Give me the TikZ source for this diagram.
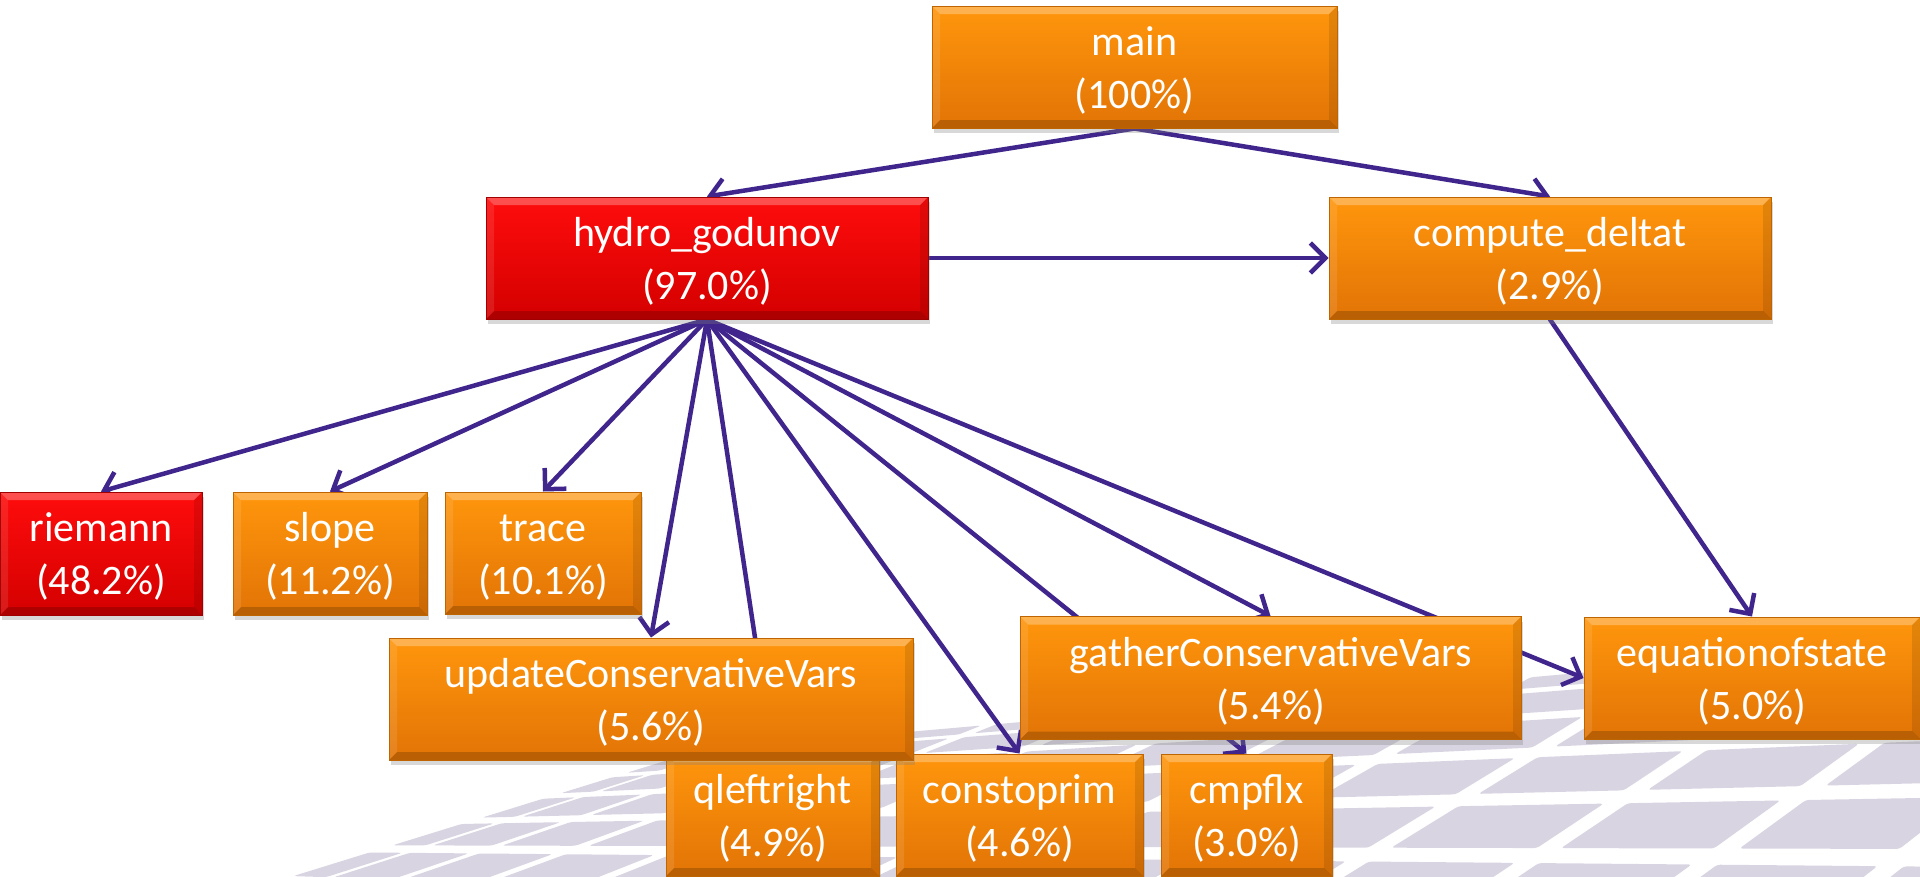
\documentclass[tikz,border=0pt]{standalone}
\usepackage{fontspec}
\setmainfont{Carlito}
\usetikzlibrary{arrows.meta,shadows}

\definecolor{callarrow}{RGB}{64,38,140}
\definecolor{hotop}{RGB}{255,150,12}
\definecolor{hobot}{RGB}{226,116,6}
\definecolor{horim}{RGB}{190,100,0}
\definecolor{rdtop}{RGB}{255,12,12}
\definecolor{rdbot}{RGB}{212,0,0}
\definecolor{rdrim}{RGB}{160,0,0}
\definecolor{tilegray}{RGB}{217,212,226}

\pgfdeclarelayer{tiles}
\pgfdeclarelayer{edges}
\pgfsetlayers{tiles,edges,main}

% bevelled rim of a box
\newcommand\boxbevel{%
  \fill[white,opacity=.28] (path picture bounding box.north west) -- (path picture bounding box.north east)
    -- ([shift={(-8pt,-8pt)}]path picture bounding box.north east) -- ([shift={(8pt,-8pt)}]path picture bounding box.north west) -- cycle;
  \fill[black,opacity=.18] (path picture bounding box.south west) -- (path picture bounding box.south east)
    -- ([shift={(-8pt,8pt)}]path picture bounding box.south east) -- ([shift={(8pt,8pt)}]path picture bounding box.south west) -- cycle;
  \fill[white,opacity=.10] (path picture bounding box.north west) -- ([shift={(8pt,-8pt)}]path picture bounding box.north west)
    -- ([shift={(8pt,8pt)}]path picture bounding box.south west) -- (path picture bounding box.south west) -- cycle;
  \fill[black,opacity=.10] (path picture bounding box.north east) -- ([shift={(-8pt,-8pt)}]path picture bounding box.north east)
    -- ([shift={(-8pt,8pt)}]path picture bounding box.south east) -- (path picture bounding box.south east) -- cycle;
}

\begin{document}
\begin{tikzpicture}[x=1pt,y=1pt,
    >={Straight Barb[length=15pt,width=30pt]},
    fn/.style={text=white,align=center,inner sep=0pt,minimum height=122pt,
      font=\fontsize{42}{53}\selectfont,text height=92pt,text depth=10pt,line width=1pt,
      drop shadow={shadow xshift=2pt,shadow yshift=-5pt,opacity=.3},
      path picture={\boxbevel}},
    warm/.style={fn,top color=hotop,bottom color=hobot,draw=horim},
    hot/.style={fn,top color=rdtop,bottom color=rdbot,draw=rdrim},
    call/.style={->,draw=callarrow,line width=4.5pt,line cap=round},
    % floor corners: near left (280,880), near right (2000,940), far left (700,750), far right (2400,600)
    declare function={bx(\p,\q)=(1-(\p))*(1-(\q))*280+(\p)*(1-(\q))*2000+(1-(\p))*(\q)*700+(\p)*(\q)*2400;
      by(\p,\q)=-((1-(\p))*(1-(\q))*880+(\p)*(1-(\q))*940+(1-(\p))*(\q)*750+(\p)*(\q)*600);}]

\useasboundingbox (0,0) rectangle (1920,-876);

% floor pattern
\begin{pgfonlayer}{tiles}
  \fill[white] (0,0) rectangle (1920,-876);
  \begin{scope}
    \clip (0,0) rectangle (1920,-876);
    \foreach \i in {0,...,12}{
      \foreach \j in {0,...,5}{
        \pgfmathsetmacro\sa{((\i+.07)/13)^1.5}
        \pgfmathsetmacro\sb{((\i+.93)/13)^1.5}
        \pgfmathsetmacro\ta{1-(1-(\j+.12)/6)^1.5}
        \pgfmathsetmacro\tb{1-(1-(\j+.88)/6)^1.5}
        \fill[tilegray,rounded corners=3pt]
          ({bx(\sa,\ta)},{by(\sa,\ta)}) -- ({bx(\sb,\ta)},{by(\sb,\ta)})
          -- ({bx(\sb,\tb)},{by(\sb,\tb)}) -- ({bx(\sa,\tb)},{by(\sa,\tb)}) -- cycle;
      }
    }
  \end{scope}
\end{pgfonlayer}

\node[warm,minimum width=405pt] (main)   at (1134.5,-67) {main\\(100\%)};
\node[hot,minimum width=442pt]  (hydro)  at (707,-258)   {hydro\_godunov\\(97.0\%)};
\node[warm,minimum width=442pt] (deltat) at (1550,-258)  {compute\_deltat\\(2.9\%)};

\node[hot,minimum width=202pt,minimum height=123pt]  (riemann) at (101,-553.5) {riemann\\(48.2\%)};
\node[warm,minimum width=194pt,minimum height=123pt] (slope)   at (330,-553.5) {slope\\(11.2\%)};
\node[warm,minimum width=196pt] (trace) at (543,-553) {trace\\(10.1\%)};

\node[warm,minimum width=213pt] (qleft)  at (772.5,-815)  {qleftright\\(4.9\%)};
\node[warm,minimum width=247pt] (cons)   at (1019.5,-815) {constoprim\\(4.6\%)};
\node[warm,minimum width=171pt] (cmpflx) at (1246.5,-815) {cmpflx\\(3.0\%)};

\node[warm,minimum width=524pt] (update) at (651,-699)    {updateConservativeVars\\(5.6\%)};
\node[warm,minimum width=501pt,minimum height=123pt] (gather) at (1270.5,-678) {gatherConservativeVars\\(5.4\%)};
\node[warm,minimum width=336pt] (eos) at (1752,-678) {equationofstate\\(5.0\%)};

\begin{pgfonlayer}{edges}
  \draw[call] (main.south) -- (hydro.north);
  \draw[call] (main.south) -- (deltat.north);
  \draw[call] (hydro.east) -- (deltat.west);
  \draw[call] (deltat.south) -- (eos.north);
  \foreach \callee in {riemann,slope,trace,update,qleft,cons,cmpflx,gather}
    \draw[call] (hydro.south) -- (\callee.north);
  \draw[call] (hydro.south) -- (eos.west);
\end{pgfonlayer}

\end{tikzpicture}
\end{document}
